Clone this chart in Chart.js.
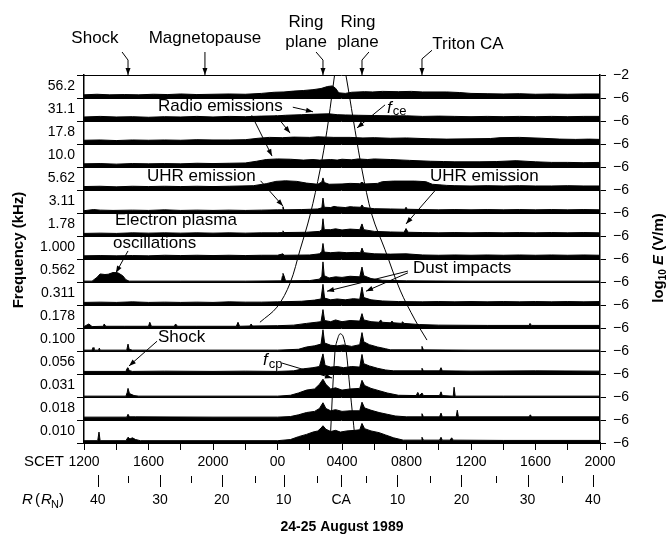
<!DOCTYPE html>
<html>
<head>
<meta charset="utf-8">
<script src="https://cdn.jsdelivr.net/npm/chart.js@4.4.1/dist/chart.umd.min.js"></script>
<style>
html, body { margin: 0; padding: 0; background: #fff; }
canvas { display: block; }
</style>
</head>
<body>
<canvas id="chart" width="667" height="537"></canvas>
<script>
// channel labels, top to bottom (kHz)
const freqLabels = ['56.2', '31.1', '17.8', '10.0', '5.62', '3.11', '1.78', '1.000',
  '0.562', '0.311', '0.178', '0.100', '0.056', '0.031', '0.018', '0.010'];

// SCET labels every 4 hours, hours counted from 1200 on 24 Aug
const scetLabels = ['1200', '1600', '2000', '00', '0400', '0800', '1200', '1600', '2000'];

// radial distance ticks (R_N)
const rMajorHours = [0.85, 4.71, 8.55, 12.38, 15.95, 19.44, 23.41, 27.51, 31.56];
const rMajorLabels = ['40', '30', '20', '10', 'CA', '10', '20', '30', '40'];
const rMinorHours = [2.72, 6.61, 10.58, 14.42, 17.46, 21.48, 25.53, 29.63];

// log10 E (V/m) per channel, [hour, value]
const f56_2 = [[0,-5.45],[0.8,-5.35],[1.6,-5.45],[2.5,-5.4],[3.4,-5.45],[4.3,-5.35],[5.2,-5.4],[6,-5.3],[7,-5.4],[8,-5.35],[9,-5.3],[10,-5.35],[11,-5.2],[11.8,-5.0],[12.4,-4.95],[13,-4.8],[13.6,-4.7],[14.2,-4.55],[14.7,-4.35],[15.1,-4.0],[15.4,-3.9],[15.6,-4.3],[15.8,-5.1],[16.2,-5.2],[16.6,-5.0],[17.4,-4.9],[17.9,-4.95],[18.5,-4.85],[19.5,-4.9],[20.3,-4.85],[21,-4.95],[22.5,-4.95],[23.3,-5.05],[24,-5.2],[25,-5.25],[26,-5.3],[27,-5.25],[28,-5.35],[29,-5.3],[30,-5.35],[31,-5.3],[32,-5.3]];
const f31_1 = [[0,-5.3],[1,-5.2],[2,-5.3],[3,-5.25],[4,-5.35],[5,-5.25],[6,-5.3],[7,-5.2],[8,-5.3],[9,-5.2],[10,-5.25],[11,-5.15],[12,-5.1],[12.5,-5.0],[13.5,-4.9],[14.5,-4.8],[15.2,-4.75],[15.7,-4.9],[16.2,-4.95],[17,-5.0],[18,-5.05],[19,-5.1],[20,-5.1],[21,-5.2],[22,-5.15],[23,-5.2],[24,-5.25],[25,-5.2],[26,-5.25],[27,-5.2],[28,-5.25],[29,-5.2],[30,-5.25],[31,-5.2],[32,-5.2]];
const f17_8 = [[0,-5.35],[1,-5.3],[2,-5.4],[3,-5.3],[4,-5.35],[5,-5.3],[6,-5.35],[7,-5.25],[8,-5.3],[9,-5.3],[10,-5.25],[10.8,-5.0],[11.5,-4.85],[12.3,-4.9],[13,-4.8],[14,-4.85],[14.5,-4.75],[15.5,-4.85],[16.5,-4.85],[17.3,-4.95],[18,-4.9],[19,-5.0],[20,-4.95],[21.5,-5.1],[22.5,-5.15],[24,-5.1],[25.2,-5.05],[25.8,-4.9],[27,-4.85],[28.4,-5.0],[29.5,-5.15],[30.5,-5.2],[31.3,-5.15],[32,-5.2]];
const f10_0 = [[0,-5.45],[1,-5.4],[2,-5.5],[3,-5.4],[4,-5.45],[5,-5.4],[6,-5.45],[7,-5.35],[8,-5.4],[9,-5.35],[10,-5.3],[10.7,-5.0],[11.3,-4.7],[12,-4.6],[12.8,-4.65],[13.6,-4.8],[14.2,-4.7],[14.6,-4.8],[15.3,-4.7],[15.7,-4.8],[16,-4.65],[16.6,-4.75],[17,-4.6],[17.6,-4.7],[18,-4.6],[19,-4.7],[20.2,-4.85],[21.5,-5.0],[22.3,-5.05],[23,-5.1],[24.5,-5.1],[25.6,-5.05],[26.8,-4.9],[28,-5.1],[29,-5.2],[30,-5.2],[31,-5.25],[32,-5.2]];
const f5_62 = [[0,-5.4],[1,-5.35],[2,-5.45],[3,-5.35],[4,-5.4],[5,-5.35],[6,-5.4],[7,-5.35],[8,-5.4],[9,-5.35],[10.5,-5.25],[11.3,-4.9],[11.9,-4.5],[12.5,-4.4],[13.2,-4.5],[13.8,-4.8],[14.5,-5.0],[14.75,-4.6],[14.82,-3.9],[14.9,-4.7],[15.2,-5.0],[16,-4.95],[16.5,-4.85],[17.1,-4.9],[17.24,-4.65],[17.4,-4.95],[18.2,-4.85],[18.5,-4.55],[19.2,-4.45],[20.5,-4.45],[21.2,-4.55],[21.6,-5.0],[22.5,-5.2],[23,-5.25],[24,-5.3],[25,-5.25],[26,-5.3],[27,-5.25],[28,-5.3],[29,-5.3],[30,-5.25],[31,-5.3],[32,-5.3]];
const f3_11 = [[0,-5.6],[0.6,-5.4],[1,-5.5],[1.8,-5.55],[3,-5.5],[4,-5.55],[5,-5.45],[6,-5.55],[7,-5.5],[8,-5.55],[9,-5.5],[10,-5.55],[11,-5.5],[12,-5.45],[12.3,-5.45],[12.34,-4.9],[12.4,-5.45],[13.5,-5.4],[14.5,-5.3],[14.75,-5.1],[14.82,-3.4],[14.9,-5.0],[15.3,-5.05],[15.5,-4.85],[15.7,-4.95],[16.2,-5.05],[16.5,-4.9],[16.7,-4.95],[17.15,-5.0],[17.24,-4.6],[17.35,-5.05],[18,-5.25],[19,-5.3],[19.9,-5.35],[19.97,-5.0],[20.05,-5.35],[21,-5.4],[22,-5.45],[23,-5.4],[24,-5.45],[25,-5.4],[26,-5.45],[27,-5.4],[28,-5.45],[29,-5.4],[30,-5.45],[31,-5.4],[32,-5.45]];
const f1_78 = [[0,-5.55],[1,-5.5],[2,-5.55],[3,-5.45],[4,-5.5],[5,-5.45],[6,-5.5],[7,-5.45],[8,-5.5],[9,-5.45],[10,-5.5],[11,-5.45],[12,-5.45],[12.3,-5.4],[12.34,-5.1],[12.4,-5.4],[13.8,-5.35],[14.6,-5.2],[14.75,-4.9],[14.82,-3.0],[14.9,-4.9],[15.3,-4.9],[15.6,-4.75],[16.0,-4.95],[16.5,-4.8],[17.1,-4.9],[17.24,-3.9],[17.35,-4.9],[18,-5.2],[19,-5.3],[19.85,-5.35],[19.97,-4.7],[20.1,-5.35],[21,-5.4],[22,-5.45],[23,-5.4],[24,-5.45],[25,-5.4],[26,-5.45],[27,-5.4],[28,-5.45],[29,-5.4],[30,-5.45],[31,-5.4],[32,-5.45]];
const f1_000 = [[0,-5.45],[1,-5.4],[2,-5.45],[3,-5.4],[4,-5.45],[5,-5.35],[6,-5.4],[7,-5.35],[8,-5.4],[9,-5.35],[10,-5.4],[11,-5.35],[12,-5.35],[12.34,-5.1],[12.4,-5.35],[14,-5.3],[14.6,-5.1],[14.75,-4.7],[14.82,-3.3],[14.9,-4.8],[15.3,-4.9],[15.8,-4.8],[16.3,-4.9],[16.8,-4.85],[17.15,-4.9],[17.24,-4.1],[17.35,-4.9],[18,-5.1],[19,-5.15],[19.97,-5.1],[21,-5.3],[22,-5.35],[23,-5.3],[24,-5.35],[25,-5.3],[26,-5.35],[27,-5.3],[28,-5.35],[29,-5.3],[30,-5.35],[31,-5.3],[32,-5.35]];
const f0_562 = [[0,-5.85],[0.5,-5.85],[0.8,-5.2],[1.0,-4.6],[1.3,-4.7],[1.5,-4.65],[1.8,-4.35],[2.1,-4.4],[2.4,-4.9],[2.6,-5.6],[2.8,-5.85],[6,-5.85],[10,-5.85],[12.25,-5.8],[12.3,-5.0],[12.34,-4.5],[12.4,-4.9],[12.5,-5.8],[14,-5.75],[14.6,-5.5],[14.75,-5.0],[14.82,-2.5],[14.9,-4.9],[15.2,-5.3],[15.6,-5.1],[16,-5.2],[16.5,-5.0],[17.1,-5.1],[17.24,-3.4],[17.35,-4.9],[17.8,-5.4],[18.5,-5.7],[20,-5.8],[24,-5.85],[32,-5.85]];
const f0_311 = [[0,-5.55],[1,-5.5],[2,-5.55],[3,-5.45],[4,-5.55],[5,-5.5],[6,-5.55],[7,-5.5],[8,-5.55],[9,-5.45],[10,-5.5],[11,-5.5],[12,-5.45],[13.5,-5.35],[14.3,-5.15],[14.7,-4.95],[14.82,-2.4],[14.92,-4.8],[15.3,-5.1],[15.7,-4.95],[16.2,-5.1],[16.7,-4.9],[17.1,-5.0],[17.24,-2.9],[17.35,-4.7],[17.8,-5.1],[18.5,-5.3],[19.5,-5.4],[21,-5.45],[22,-5.4],[23,-5.45],[24,-5.4],[25,-5.45],[26,-5.4],[27,-5.45],[28,-5.4],[29,-5.45],[30,-5.4],[31,-5.45],[32,-5.4]];
const f0_178 = [[0,-5.75],[0.3,-5.3],[0.5,-5.75],[1.2,-5.7],[1.25,-5.3],[1.35,-5.7],[2.5,-5.7],[4.0,-5.7],[4.08,-5.0],[4.18,-5.7],[5.6,-5.7],[5.68,-5.3],[5.8,-5.7],[7,-5.7],[9.45,-5.7],[9.55,-5.0],[9.65,-5.7],[10.3,-5.65],[10.36,-5.3],[10.45,-5.65],[12,-5.6],[13,-5.5],[13.8,-5.2],[14.4,-5.0],[14.7,-4.9],[14.82,-2.8],[14.92,-4.7],[15.3,-4.9],[15.6,-4.6],[16,-4.9],[16.5,-4.7],[17.1,-4.8],[17.24,-3.5],[17.35,-4.6],[17.8,-4.9],[18.3,-5.0],[18.4,-4.6],[18.5,-5.0],[19.0,-5.1],[19.1,-4.8],[19.2,-5.1],[19.7,-5.2],[19.75,-4.9],[19.85,-5.2],[20.8,-5.4],[22,-5.5],[25,-5.55],[27.6,-5.55],[27.66,-5.2],[27.75,-5.55],[32,-5.55]];
const f0_100 = [[0,-5.85],[0.5,-5.85],[0.56,-5.4],[0.62,-5.85],[0.9,-5.85],[0.95,-5.5],[1.0,-5.85],[2.65,-5.85],[2.73,-4.8],[2.8,-5.7],[3.0,-5.85],[8,-5.85],[12,-5.85],[13.3,-5.7],[13.8,-5.3],[14.3,-5.1],[14.7,-4.8],[14.82,-2.3],[14.92,-4.6],[15.3,-5.0],[15.7,-5.1],[16.1,-4.95],[16.6,-5.2],[17.1,-4.9],[17.24,-2.8],[17.35,-4.4],[17.7,-4.9],[18.2,-5.3],[18.7,-5.6],[19,-5.8],[20.9,-5.8],[20.96,-5.2],[21.05,-5.8],[24,-5.85],[32,-5.85]];
const f0_056 = [[0,-5.55],[2.6,-5.55],[2.68,-5.0],[2.73,-4.9],[2.8,-5.4],[3.0,-5.55],[5,-5.5],[8,-5.55],[10,-5.5],[12,-5.55],[13,-5.45],[13.6,-5.1],[14.2,-4.9],[14.6,-4.7],[14.82,-2.5],[14.95,-4.5],[15.3,-4.8],[15.7,-4.7],[16.1,-4.9],[16.6,-4.7],[17.1,-4.8],[17.24,-2.6],[17.35,-4.2],[17.7,-4.6],[18.2,-5.0],[18.7,-5.3],[19.2,-5.45],[20.9,-5.45],[20.96,-5.0],[21.05,-5.45],[22.05,-5.45],[22.14,-4.9],[22.22,-5.45],[24,-5.5],[28,-5.45],[32,-5.5]];
const f0_031 = [[0,-5.85],[2.6,-5.85],[2.68,-5.2],[2.73,-4.5],[2.82,-5.4],[3.1,-5.75],[3.4,-5.85],[8,-5.85],[12,-5.85],[12.8,-5.7],[13.3,-5.3],[13.8,-4.8],[14.3,-4.6],[14.6,-3.8],[14.82,-2.9],[15.0,-3.8],[15.3,-4.6],[15.6,-4.4],[16.0,-4.8],[16.5,-4.6],[17.1,-4.5],[17.24,-3.1],[17.4,-4.0],[17.8,-4.5],[18.3,-4.9],[18.8,-5.3],[19.5,-5.7],[20.6,-5.75],[20.7,-5.2],[20.8,-5.75],[20.96,-5.3],[21.05,-5.75],[22.05,-5.75],[22.14,-5.1],[22.22,-5.75],[22.9,-5.85],[22.95,-4.3],[23.02,-5.85],[26,-5.85],[32,-5.85]];
const f0_018 = [[0,-5.5],[2.65,-5.5],[2.73,-5.0],[2.82,-5.45],[3.2,-5.45],[8,-5.5],[12,-5.5],[12.8,-5.4],[13.3,-5.1],[13.8,-4.7],[14.3,-4.5],[14.6,-4.0],[14.82,-3.0],[15.0,-4.0],[15.3,-4.4],[15.6,-4.2],[16.0,-4.5],[16.5,-4.4],[17.1,-4.4],[17.24,-2.9],[17.4,-3.9],[17.8,-4.3],[18.3,-4.7],[18.8,-5.0],[19.3,-5.3],[20,-5.45],[20.9,-5.45],[20.96,-4.9],[21.05,-5.45],[22.05,-5.45],[22.14,-4.8],[22.22,-5.45],[23.08,-5.45],[23.15,-4.3],[23.22,-5.45],[27.6,-5.45],[27.68,-5.1],[27.76,-5.45],[32,-5.45]];
const f0_010 = [[0,-5.6],[0.85,-5.6],[0.93,-4.1],[1.0,-5.6],[2.6,-5.6],[2.73,-5.0],[2.85,-5.3],[3.0,-5.1],[3.2,-5.4],[3.5,-5.6],[8,-5.6],[12,-5.6],[12.8,-5.4],[13.3,-4.9],[13.8,-4.5],[14.2,-4.1],[14.5,-3.9],[14.7,-3.4],[14.82,-3.0],[15.0,-3.6],[15.3,-4.0],[15.6,-3.8],[15.9,-4.1],[16.3,-3.9],[16.8,-3.8],[17.1,-3.7],[17.24,-2.6],[17.4,-3.5],[17.8,-3.9],[18.3,-4.2],[18.7,-4.6],[19.2,-5.1],[19.8,-5.5],[20.9,-5.5],[20.96,-5.0],[21.05,-5.5],[22.05,-5.5],[22.14,-5.0],[22.22,-5.5],[22.7,-5.5],[22.8,-5.1],[22.9,-5.5],[26,-5.55],[32,-5.55]];

const channels = [f56_2, f31_1, f17_8, f10_0, f5_62, f3_11, f1_78, f1_000,
  f0_562, f0_311, f0_178, f0_100, f0_056, f0_031, f0_018, f0_010];

// electron and proton cyclotron frequency curves (kHz)
const fceHours = [10.91, 11.97, 12.78, 13.40, 14.02, 14.64, 15.07, 15.44, 15.54, null, 16.24, 16.37, 16.81, 17.24, 17.86, 18.67, 19.6, 20.53, 21.27];
const fceKHz = [0.154, 0.225, 0.41, 0.944, 2.25, 6.98, 18.8, 55.5, 75, null, 75, 55.5, 18.8, 6.98, 2.25, 0.944, 0.345, 0.163, 0.0986];
const fcpHours = [15.26, 15.57, 15.75, 15.88, 16.06, 16.25, 16.5, 16.8];
const fcpKHz = [0.0075, 0.0772, 0.1044, 0.1155, 0.1090, 0.0772, 0.0282, 0.00866];

// strip position: each channel is 4 decades tall, centres at log-spaced frequencies
function freqToY(f) { return 16 * (Math.log10(f) + 2) + 2; }

const FONT = '"Liberation Sans", Arial, sans-serif';
Chart.defaults.font.family = FONT;
Chart.defaults.color = '#000';

const datasets = channels.map((pts, i) => {
    const base = (15 - i) * 4;
    return {
        data: pts.map(([h, e]) => ({ x: h, y: base + e + 6 })),
        fill: { value: base },
        backgroundColor: '#000',
        borderColor: '#000',
        borderWidth: 1,
        pointRadius: 0,
        tension: 0,
    };
});

datasets.push({
    data: fceHours.map((h, i) => h === null ? { x: null, y: null } : { x: h, y: freqToY(fceKHz[i]) }),
    borderColor: '#000', borderWidth: 1, pointRadius: 0, tension: 0.35, fill: false, spanGaps: false,
});
datasets.push({
    data: fcpHours.map((h, i) => ({ x: h, y: freqToY(fcpKHz[i]) })),
    borderColor: '#000', borderWidth: 1, pointRadius: 0, tension: 0.35, fill: false,
});

// annotations, positions in (hour, strip units)
const notes = [
    { t: 'Radio emissions', h: 4.59, u: 58.6 },
    { t: 'UHR emission', h: 3.91, u: 46.3 },
    { t: 'UHR emission', h: 21.46, u: 46.3 },
    { t: 'Electron plasma', h: 1.92, u: 38.8 },
    { t: 'oscillations', h: 1.80, u: 34.8 },
    { t: 'Dust impacts', h: 20.4, u: 30.4 },
    { t: 'Shock', h: 4.59, u: 18.4 },
];
const arrows = [
    [12.95, 58.4, 14.2, 57.6], [11.9, 57.0, 12.78, 53.9], [10.4, 57.0, 11.66, 49.9],
    [18.67, 58.8, 16.93, 54.8],
    [10.95, 45.6, 12.34, 41.2], [22.08, 44.9, 19.97, 38.1],
    [2.73, 33.4, 1.98, 29.6],
    [20.09, 29.9, 15.07, 26.4], [20.09, 29.6, 17.49, 26.4],
    [4.53, 17.7, 2.79, 13.4],
    [12.28, 13.9, 15.38, 11.3],
];
const topNotes = [
    { t: ['Shock'], h: 0.68, u: 70.4 },
    { t: ['Magnetopause'], h: 7.5, u: 70.4 },
    { t: ['Ring', 'plane'], h: 13.77, u: 73.2 },
    { t: ['Ring', 'plane'], h: 16.99, u: 73.2 },
    { t: ['Triton CA'], h: 23.81, u: 69.4 },
];
const topArrows = [
    [[2.36, 68.0], [2.73, 66.6], [2.73, 64]],
    [[7.5, 68.0], [7.5, 64]],
    [[14.39, 68.0], [14.82, 66.6], [14.82, 64]],
    [[17.67, 68.0], [17.24, 66.6], [17.24, 64]],
    [[21.58, 68.3], [20.96, 66.8], [20.96, 64]],
];

function arrowHead(ctx, x1, y1, x2, y2) {
    const a = Math.atan2(y2 - y1, x2 - x1);
    ctx.beginPath();
    ctx.moveTo(x2, y2);
    ctx.lineTo(x2 - 7 * Math.cos(a) + 2.5 * Math.sin(a), y2 - 7 * Math.sin(a) - 2.5 * Math.cos(a));
    ctx.lineTo(x2 - 7 * Math.cos(a) - 2.5 * Math.sin(a), y2 - 7 * Math.sin(a) + 2.5 * Math.cos(a));
    ctx.closePath();
    ctx.fill();
}

function subText(ctx, x, y, main, sub, size, mainFont) {
    ctx.font = mainFont;
    ctx.fillText(main, x, y);
    const w = ctx.measureText(main).width;
    ctx.font = `${size}px ${FONT}`;
    ctx.fillText(sub, x + w + 1, y + 4);
}

const annotate = {
    id: 'annotate',
    afterDraw(chart) {
        const ctx = chart.ctx;
        const xs = chart.scales.x, ys = chart.scales.y;
        const px = h => xs.getPixelForValue(h), py = u => ys.getPixelForValue(u);
        const area = chart.chartArea;
        ctx.save();
        ctx.fillStyle = '#000';
        ctx.strokeStyle = '#000';
        ctx.lineWidth = 1;

        ctx.font = `17px ${FONT}`;
        ctx.textAlign = 'left';
        ctx.textBaseline = 'middle';
        notes.forEach(n => ctx.fillText(n.t, px(n.h), py(n.u)));
        subText(ctx, px(18.79), py(58.3), 'f', 'ce', 13, `italic 17px ${FONT}`);
        subText(ctx, px(11.1), py(14.4), 'f', 'cp', 13, `italic 17px ${FONT}`);

        arrows.forEach(([h1, u1, h2, u2]) => {
            const x1 = px(h1), y1 = py(u1), x2 = px(h2), y2 = py(u2);
            ctx.beginPath();
            ctx.moveTo(x1, y1);
            ctx.lineTo(x2, y2);
            ctx.stroke();
            arrowHead(ctx, x1, y1, x2, y2);
        });

        ctx.font = `17px ${FONT}`;
        ctx.textAlign = 'center';
        topNotes.forEach(n => {
            n.t.forEach((line, k) => ctx.fillText(line, px(n.h), py(n.u) + k * 20));
        });
        topArrows.forEach(path => {
            ctx.beginPath();
            path.forEach(([h, u], k) => k ? ctx.lineTo(px(h), py(u)) : ctx.moveTo(px(h), py(u)));
            ctx.stroke();
            const a = path[path.length - 2], b = path[path.length - 1];
            arrowHead(ctx, px(a[0]), py(a[1]), px(b[0]), py(b[1]));
        });

        // SCET row label and R axis
        const b = area.bottom;
        ctx.font = `15px ${FONT}`;
        ctx.textAlign = 'left';
        ctx.fillText('SCET', 24, b + 19);
        ctx.beginPath();
        rMajorHours.forEach(h => { const x = Math.round(px(h)) + 0.5; ctx.moveTo(x, b + 32); ctx.lineTo(x, b + 44); });
        rMinorHours.forEach(h => { const x = Math.round(px(h)) + 0.5; ctx.moveTo(x, b + 33); ctx.lineTo(x, b + 40); });
        ctx.stroke();
        ctx.font = `14px ${FONT}`;
        ctx.textAlign = 'center';
        rMajorHours.forEach((h, i) => ctx.fillText(rMajorLabels[i], px(h), b + 57));
        ctx.textAlign = 'left';
        ctx.font = `italic 15px ${FONT}`;
        ctx.fillText('R', 22, b + 57);
        ctx.font = `15px ${FONT}`;
        ctx.fillText('(', 35, b + 57);
        ctx.font = `italic 15px ${FONT}`;
        ctx.fillText('R', 41, b + 57);
        ctx.font = `11px ${FONT}`;
        ctx.fillText('N', 51, b + 62);
        ctx.font = `15px ${FONT}`;
        ctx.fillText(')', 59, b + 57);

        ctx.font = `bold 14px ${FONT}`;
        ctx.textAlign = 'center';
        ctx.fillText('24-25 August 1989', (area.left + area.right) / 2, b + 84);

        // axis titles
        ctx.save();
        ctx.translate(19, 250);
        ctx.rotate(-Math.PI / 2);
        ctx.font = `bold 15px ${FONT}`;
        ctx.fillText('Frequency (kHz)', 0, 0);
        ctx.restore();

        ctx.save();
        ctx.translate(659, 258);
        ctx.rotate(-Math.PI / 2);
        ctx.textAlign = 'left';
        const parts = [['log', `bold 15px ${FONT}`, 0], ['10', `bold 10px ${FONT}`, 4], [' E', `bold italic 15px ${FONT}`, 0], [' (V/m)', `bold 15px ${FONT}`, 0]];
        let total = 0;
        parts.forEach(([s, f]) => { ctx.font = f; total += ctx.measureText(s).width; });
        let x = -total / 2;
        parts.forEach(([s, f, dy]) => { ctx.font = f; ctx.fillText(s, x, dy); x += ctx.measureText(s).width; });
        ctx.restore();

        ctx.restore();
    }
};

new Chart(document.getElementById('chart'), {
    type: 'line',
    data: { datasets },
    options: {
        responsive: false,
        animation: false,
        layout: { padding: { top: 75, left: 0, right: 0, bottom: 0 } },
        plugins: { legend: { display: false }, tooltip: { enabled: false } },
        scales: {
            x: {
                type: 'linear', min: 0, max: 32, position: 'bottom',
                afterBuildTicks: s => { s.ticks = []; for (let v = 0; v <= 32; v += 2) s.ticks.push({ value: v }); },
                ticks: { autoSkip: false, maxRotation: 0, padding: 4, font: { size: 14 },
                    callback: v => v % 4 === 0 ? scetLabels[v / 4] : '' },
                grid: { drawOnChartArea: false, tickLength: 7, color: '#000' },
                border: { color: '#000', width: 1.5 },
                afterFit: s => { s.height = 94; },
            },
            y: {
                type: 'linear', min: 0, max: 64, position: 'left',
                afterBuildTicks: s => { s.ticks = []; for (let v = 0; v <= 64; v += 2) s.ticks.push({ value: v }); },
                ticks: { autoSkip: false, padding: 2, font: { size: 14 },
                    callback: v => v % 4 === 2 ? freqLabels[15 - (v - 2) / 4] : '' },
                grid: { drawOnChartArea: false, tickLength: 7,
                    tickColor: c => c.tick && c.tick.value % 4 === 0 ? '#000' : 'rgba(0,0,0,0)' },
                border: { color: '#000', width: 1.5 },
                afterFit: s => { s.width = 84; },
            },
            y2: {
                type: 'linear', min: 0, max: 64, position: 'right',
                afterBuildTicks: s => { s.ticks = []; for (let v = 0; v <= 64; v += 4) s.ticks.push({ value: v }); },
                ticks: { autoSkip: false, padding: 7, font: { size: 14 },
                    callback: v => v === 64 ? '\u22122' : '\u22126' },
                grid: { drawOnChartArea: true, tickLength: 6, color: '#000', lineWidth: 1 },
                border: { color: '#000', width: 1.5 },
                afterFit: s => { s.width = 67; },
            },
        },
    },
    plugins: [annotate],
});
</script>
</body>
</html>
